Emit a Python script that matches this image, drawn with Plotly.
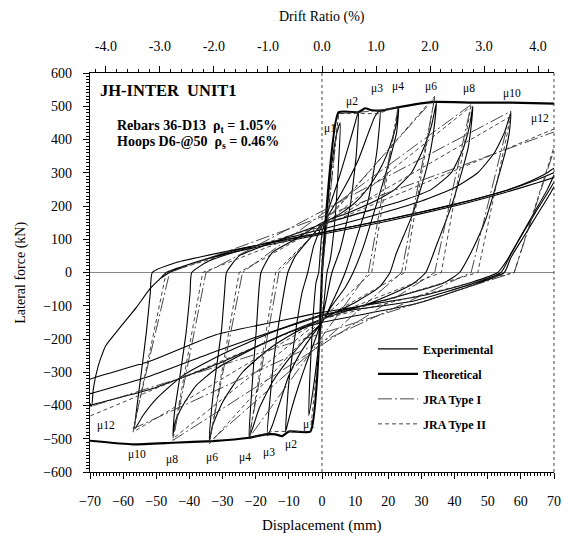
import plotly.graph_objects as go

# ---------------- data ----------------
disp_ticks = [-70, -60, -50, -40, -30, -20, -10, 0, 10, 20, 30, 40, 50, 60, 70]
force_ticks = [-600, -500, -400, -300, -200, -100, 0, 100, 200, 300, 400, 500, 600]
drift_ticks = [-4.0, -3.0, -2.0, -1.0, 0.0, 1.0, 2.0, 3.0, 4.0]
drift_labels = ["-4.0", "-3.0", "-2.0", "-1.0", "0.0", "1.0", "2.0", "3.0", "4.0"]
mm_per_percent = 16.3  # displacement (mm) at 1 % drift

# Experimental loops, one list per ductility level (displacement mm, force kN)
exp_mu1_x = [0, 1.5, 3, 4.5, 5.5, 5, 4, 2.5, 1.5, 0.5, -1, -2.5, -4, -3.6, -2.8, -1.8, -1]
exp_mu1_y = [0, 180, 330, 420, 450, 330, 170, 40, 0, -100, -220, -340, -430, -300, -150, -30, 0]
exp_mu2_x = [0, 2, 5, 8, 10, 11, 10.3, 8.5, 5.5, 3, 1.5, 0, -2, -5, -8, -10, -11, -10, -8, -6, -4.3]
exp_mu2_y = [120, 190, 280, 380, 450, 485, 350, 200, 70, 0, -70, -140, -200, -280, -370, -440, -480, -330, -180, -60, 0]
exp_mu3_x = [-2.5, 0, 3, 7, 11, 14, 16, 17.5, 16.5, 14, 10, 7, 4, 0, -3, -7, -10, -13, -15, -16.5, -15.5, -14, -12, -10.3]
exp_mu3_y = [80, 140, 190, 260, 340, 420, 470, 488, 360, 220, 90, 0, -70, -150, -190, -250, -310, -400, -460, -490, -360, -220, -90, 0]
exp_mu4_x = [-8, -3, 0, 6, 11, 15, 18, 20.5, 22.3, 23.2, 22.5, 21, 19.5, 16.5, 12.5, 9.4, 7, 3, 0, -5, -10, -15, -19, -21, -22, -21.5, -20.8, -19.8, -18.4]
exp_mu4_y = [50, 110, 145, 180, 220, 270, 320, 380, 440, 497, 420, 360, 307, 207, 78, 0, -45, -100, -150, -200, -260, -330, -410, -470, -495, -400, -300, -170, 0]
exp_mu6_x = [-15, -8, 0, 8, 16, 22, 27, 30.5, 33, 34.5, 34, 33, 31.4, 27.4, 22.4, 20.5, 17.5, 10, 0, -8, -16, -24, -30, -33, -34, -33.5, -32.3, -30.3, -29.4, -28.8]
exp_mu6_y = [60, 100, 150, 180, 215, 250, 300, 370, 440, 510, 450, 380, 307, 177, 57, 0, -42, -90, -140, -180, -230, -300, -390, -460, -505, -430, -321, -171, -60, 0]
exp_mu8_x = [-25, -15, 0, 12, 24, 33, 39, 42.5, 44.5, 45.5, 45, 44, 42.3, 39.3, 34.4, 31.3, 27, 15, 0, -10, -22, -32, -38, -42, -44.3, -45, -44.5, -43, -41, -39.8, -39.3]
exp_mu8_y = [50, 90, 145, 180, 215, 250, 300, 370, 440, 500, 440, 370, 307, 207, 78, 0, -37, -90, -140, -180, -235, -290, -340, -400, -450, -490, -420, -321, -180, -60, 0]
exp_mu10_x = [-34, -20, 0, 15, 30, 40, 47, 52, 55, 57, 56.5, 55.5, 53.8, 49.3, 45.3, 41.5, 37, 20, 0, -15, -30, -42, -50, -54, -56.5, -55.8, -54.5, -53, -51.8, -51.2]
exp_mu10_y = [35, 80, 130, 170, 215, 255, 300, 360, 420, 480, 420, 370, 307, 157, 67, 0, -30, -80, -130, -180, -245, -310, -380, -430, -470, -400, -300, -180, -60, 0]
exp_mu12a_x = [-44, -28, 0, 20, 40, 55, 63, 68, 71, 68, 64, 60, 56, 53, 45, 30, 0, -10, -32, -52, -69, -72]
exp_mu12a_y = [30, 65, 120, 160, 205, 245, 275, 300, 320, 250, 180, 110, 40, 0, -30, -70, -120, -140, -187, -267, -317, -330]
exp_mu12b_x = [-49, -46, -40, -25, 0, 20, 40, 55, 65, 71, 72, 69, 65, 61, 57, 54, 45, 28, 0, -10, -32, -52, -69, -71]
exp_mu12b_y = [-20, 0, 25, 70, 120, 160, 205, 245, 280, 305, 310, 255, 190, 125, 55, 0, -35, -85, -127, -160, -237, -312, -362, -368]
exp_mu12c_x = [-70.5, -69.5, -69, -67.5, -65.3, -61.4, -56, -52, -49, -47, -40, -25, 0, 20, 40, 55, 65, 71, 72, 69, 65, 61, 57, 55, 45, 28, 0, -10, -32, -52, -69, -71]
exp_mu12c_y = [-385, -402, -350, -280, -221, -171, -105, -50, -20, 0, 25, 65, 115, 155, 200, 240, 270, 290, 295, 240, 175, 110, 45, 0, -40, -95, -150, -180, -277, -352, -397, -405]

# Theoretical envelope
theo_pos_x = [0, 5, 11, 13, 15, 18, 23, 34, 45.5, 57, 70]
theo_pos_y = [0, 482, 482, 494, 488, 487, 497, 513, 511, 511, 508]
theo_neg_x = [0, -3.5, -10, -12, -14, -17, -22, -33, -45, -57, -70]
theo_neg_y = [0, -478, -478, -492, -487, -487, -497, -507, -512, -517, -506]

# JRA Type I model path
jra1_x = [0, 5, 11, 17, 23, 14, -22, -13, 34, 24, -34, -24, 45, 34, -45, -35, 57, 45, -57, -46, 72, 58, -72]
jra1_y = [0, 478, 482, 487, 497, 0, -497, 0, 525, 0, -510, 0, 505, 0, -505, 0, 485, 0, -470, 0, 430, 0, -410]

# JRA Type II model path
jra2_x = [0, 5, 17, 23, 15, 0, -3.5, -15, -22, -14, 0, 34, 25, 0, -34, -25, 0, 45, 36, 0, -45, -36, 0, 57, 47, 0, -57, -47, 0, 72, 58, 0, -72]
jra2_y = [0, 478, 478, 500, 0, -140, -478, -478, -500, 0, 140, 530, 0, -140, -515, 0, 140, 500, 0, -140, -500, 0, 140, 470, 0, -140, -480, 0, 140, 440, 0, -140, -440]

# Ductility labels
mu_pos_text = ["μ1", "μ2", "μ3", "μ4", "μ6", "μ8", "μ10", "μ12"]
mu_pos_x = [2.4, 9.0, 16.5, 22.9, 32.9, 44.3, 57.2, 65.7]
mu_pos_y = [432, 514, 554, 559, 559, 554, 539, 464]
mu_neg_text = ["μ1", "μ2", "μ3", "μ4", "μ6", "μ8", "μ10", "μ12"]
mu_neg_x = [-3.9, -9.4, -15.9, -23.3, -33.3, -45.2, -55.7, -65.1]
mu_neg_y = [-456, -516, -541, -556, -556, -561, -546, -459]

# ---------------- figure ----------------
SERIF = "Liberation Serif, Times New Roman, serif"
exp_x = (exp_mu1_x + exp_mu2_x + exp_mu3_x + exp_mu4_x + exp_mu6_x + exp_mu8_x
         + exp_mu10_x + exp_mu12a_x + [None] + exp_mu12b_x + exp_mu12c_x)
exp_y = (exp_mu1_y + exp_mu2_y + exp_mu3_y + exp_mu4_y + exp_mu6_y + exp_mu8_y
         + exp_mu10_y + exp_mu12a_y + [None] + exp_mu12b_y + exp_mu12c_y)

fig = go.Figure()
fig.add_trace(go.Scatter(x=exp_x, y=exp_y, mode="lines", name="Experimental",
                         legendgroup="a", connectgaps=False,
                         line=dict(color="#000000", width=1.1, shape="spline", smoothing=0.5)))
fig.add_trace(go.Scatter(x=theo_pos_x + [None] + theo_neg_x,
                         y=theo_pos_y + [None] + theo_neg_y,
                         mode="lines", name="Theoretical", legendgroup="b",
                         line=dict(color="#000000", width=2.2, shape="spline", smoothing=0.4)))
fig.add_trace(go.Scatter(x=jra1_x, y=jra1_y, mode="lines", name="JRA Type I",
                         legendgroup="c",
                         line=dict(color="#333333", width=0.9, dash="14px,3px,2px,3px")))
fig.add_trace(go.Scatter(x=jra2_x, y=jra2_y, mode="lines", name="JRA Type II",
                         legendgroup="d",
                         line=dict(color="#333333", width=0.9, dash="4px,3px")))
# invisible trace to activate the drift-ratio axis
fig.add_trace(go.Scatter(x=[-70 / mm_per_percent, 70 / mm_per_percent], y=[0, 0],
                         xaxis="x2", mode="lines", line=dict(width=0),
                         showlegend=False, hoverinfo="skip"))

tickfont = dict(family=SERIF, size=14, color="#000")
fig.update_layout(
    width=569, height=538,
    margin=dict(l=90, r=8, t=73, b=66),
    paper_bgcolor="white", plot_bgcolor="white",
    showlegend=True,
    legend=dict(x=0.61, y=0.345, xanchor="left", yanchor="top",
                bgcolor="rgba(255,255,255,0)", tracegroupgap=6, itemwidth=40,
                font=dict(family=SERIF, size=12, color="#000", weight="bold")),
    xaxis=dict(range=[-70, 70], tickvals=disp_ticks, ticks="outside", ticklen=6,
               tickcolor="#000", showline=True, linecolor="#000", linewidth=1.2,
               showgrid=False, zeroline=False, tickfont=tickfont,
               ticklabelstandoff=10,
               minor=dict(dtick=1, ticks="outside", ticklen=3, tickcolor="#000", showgrid=False)),
    xaxis2=dict(overlaying="x", side="top", anchor="y",
                range=[-70 / mm_per_percent, 70 / mm_per_percent],
                tickvals=drift_ticks, ticktext=drift_labels, ticks="outside", ticklen=6,
                tickcolor="#000", showline=True, linecolor="#000", linewidth=1,
                showgrid=False, zeroline=False, tickfont=tickfont, ticklabelstandoff=9,
                minor=dict(dtick=0.2, ticks="outside", ticklen=3, tickcolor="#000", showgrid=False)),
    yaxis=dict(range=[-600, 600], tickvals=force_ticks, ticks="outside", ticklen=6,
               tickcolor="#000", showline=True, linecolor="#000", linewidth=1.2,
               showgrid=False, zeroline=True, zerolinecolor="#888", zerolinewidth=1,
               tickfont=tickfont, ticklabelstandoff=8,
               minor=dict(dtick=10, ticks="outside", ticklen=3, tickcolor="#000", showgrid=False)),
)

# reference lines: x = 0 dashed and right frame dotted
fig.add_shape(type="line", xref="x", yref="y", x0=0, x1=0, y0=-600, y1=600,
              line=dict(color="#444", width=1, dash="dot"))
fig.add_shape(type="line", xref="paper", yref="paper", x0=1, x1=1, y0=0, y1=1,
              line=dict(color="#444", width=1, dash="dot"))

# axis titles
fig.add_annotation(text="Displacement (mm)", xref="paper", yref="paper", x=0.5, y=-0.135,
                   showarrow=False, yanchor="middle", font=dict(family=SERIF, size=15, color="#000"))
fig.add_annotation(text="Drift Ratio (%)", xref="paper", yref="paper", x=0.5, y=1.14,
                   showarrow=False, yanchor="middle", font=dict(family=SERIF, size=14, color="#000"))
fig.add_annotation(text="Lateral force (kN)", xref="paper", yref="paper", x=-0.172, y=0.5,
                   textangle=-90, showarrow=False, font=dict(family=SERIF, size=14, color="#000"))

# specimen text
fig.add_annotation(text="<b>JH-INTER  UNIT1</b>", xref="paper", yref="paper",
                   x=0.017, y=0.955, xanchor="left", yanchor="middle", showarrow=False,
                   font=dict(family=SERIF, size=16.5, color="#000"))
fig.add_annotation(text="<b>Rebars 36-D13  ρ<sub>t</sub> = 1.05%</b>", xref="paper", yref="paper",
                   x=0.053, y=0.865, xanchor="left", yanchor="middle", showarrow=False,
                   font=dict(family=SERIF, size=14, color="#000"))
fig.add_annotation(text="<b>Hoops D6-@50  ρ<sub>s</sub> = 0.46%</b>", xref="paper", yref="paper",
                   x=0.053, y=0.825, xanchor="left", yanchor="middle", showarrow=False,
                   font=dict(family=SERIF, size=14, color="#000"))

for t, xv, yv in zip(mu_pos_text + mu_neg_text, mu_pos_x + mu_neg_x, mu_pos_y + mu_neg_y):
    fig.add_annotation(text=t, x=xv, y=yv, xref="x", yref="y", showarrow=False,
                       font=dict(family=SERIF, size=11.5, color="#000"))

fig.write_html("out.html", include_plotlyjs=True, full_html=True,
               config={"displayModeBar": False},
               post_script="document.body.style.margin='0';")
